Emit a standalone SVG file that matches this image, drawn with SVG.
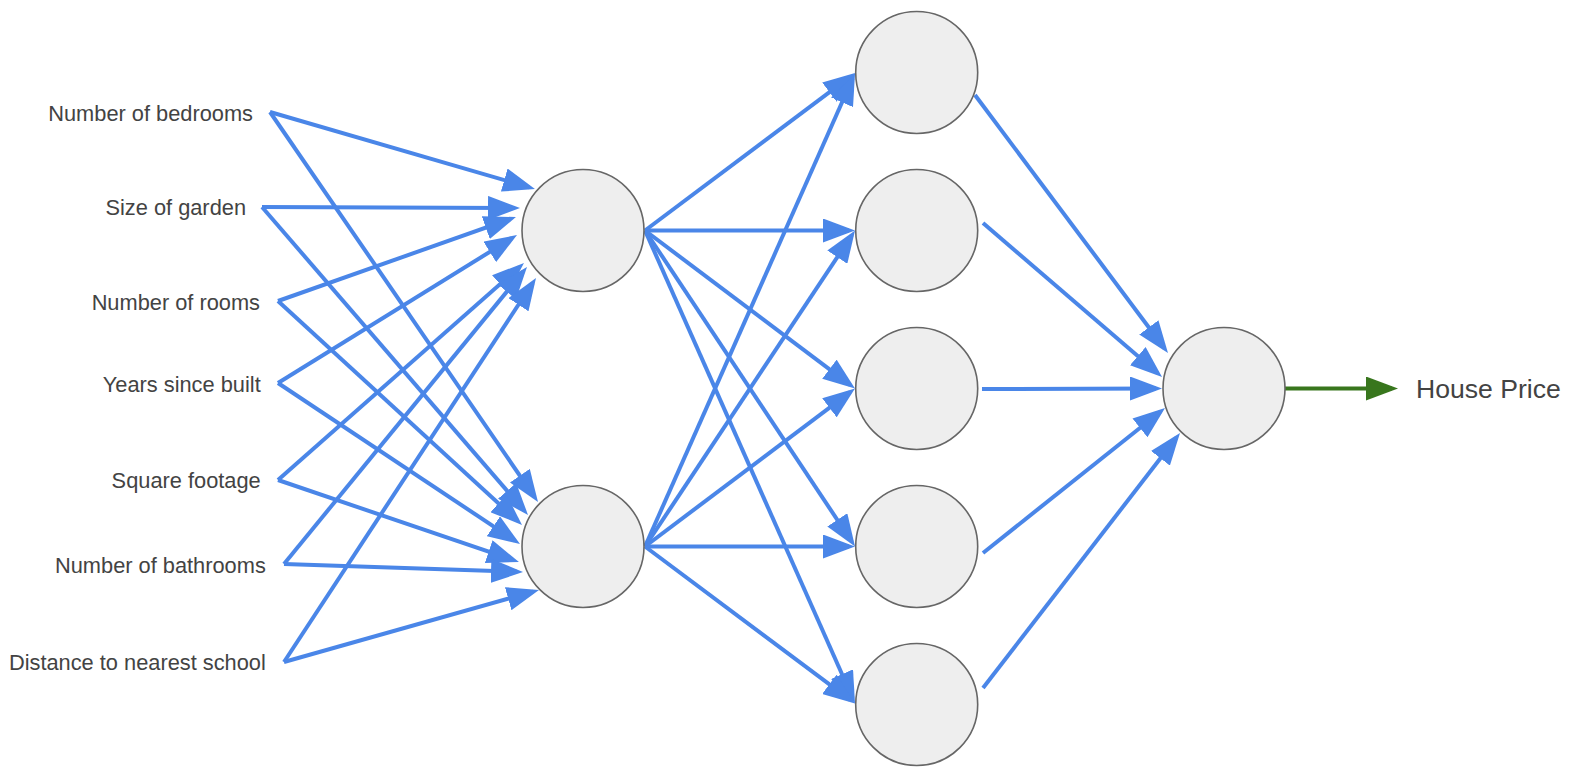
<svg xmlns="http://www.w3.org/2000/svg" width="1583" height="783" viewBox="0 0 1583 783">
<style>
.lbl{font-family:"Liberation Sans",Arial,sans-serif;font-size:21.8px;fill:#434343;text-anchor:end}
.out{font-family:"Liberation Sans",Arial,sans-serif;font-size:26.6px;fill:#434343}
.node{fill:#eeeeee;stroke:#666666;stroke-width:1.6}
.c{stroke:#4a86e8;stroke-width:4;fill:none;marker-end:url(#ab)}
.g{stroke:#38761d;stroke-width:4;fill:none;marker-end:url(#ag)}
</style>
<defs>
<marker id="ab" markerUnits="userSpaceOnUse" markerWidth="32" markerHeight="24" refX="26" refY="12" orient="auto"><path d="M0,0 L32,12 L0,24 z" fill="#4a86e8"/></marker>
<marker id="ag" markerUnits="userSpaceOnUse" markerWidth="32" markerHeight="24" refX="26" refY="12" orient="auto"><path d="M0,0 L32,12 L0,24 z" fill="#38761d"/></marker>
</defs>
<rect width="1583" height="783" fill="#ffffff"/>
<g id="connectors">
<line class="c" x1="270" y1="112" x2="529.2" y2="187.3"/>
<line class="c" x1="262" y1="207" x2="514" y2="208"/>
<line class="c" x1="278" y1="301" x2="510.3" y2="219"/>
<line class="c" x1="278" y1="383" x2="511.9" y2="238.2"/>
<line class="c" x1="278" y1="480" x2="519.5" y2="267"/>
<line class="c" x1="284" y1="564" x2="523.2" y2="271.6"/>
<line class="c" x1="284" y1="662" x2="532.7" y2="283"/>
<line class="c" x1="270" y1="112" x2="534.6" y2="497.1"/>
<line class="c" x1="262" y1="207" x2="524.1" y2="510.5"/>
<line class="c" x1="278" y1="301" x2="517.6" y2="520.9"/>
<line class="c" x1="278" y1="383" x2="515" y2="540.7"/>
<line class="c" x1="278" y1="480" x2="513.3" y2="560.1"/>
<line class="c" x1="284" y1="564" x2="517" y2="571.8"/>
<line class="c" x1="284" y1="662" x2="533.2" y2="591.6"/>
<line class="c" x1="645" y1="230.5" x2="850.2" y2="76.6"/>
<line class="c" x1="645" y1="230.5" x2="849" y2="230.5"/>
<line class="c" x1="645" y1="230.5" x2="850.2" y2="384.9"/>
<line class="c" x1="645" y1="230.5" x2="851.7" y2="541.5"/>
<line class="c" x1="645" y1="230.5" x2="852.6" y2="698"/>
<line class="c" x1="645" y1="546.5" x2="852.6" y2="78.5"/>
<line class="c" x1="645" y1="546.5" x2="851.7" y2="235.5"/>
<line class="c" x1="645" y1="546.5" x2="850.2" y2="392.1"/>
<line class="c" x1="645" y1="546.5" x2="849" y2="546.5"/>
<line class="c" x1="645" y1="546.5" x2="850.2" y2="699.9"/>
<line class="c" x1="975" y1="95" x2="1164.4" y2="348.2"/>
<line class="c" x1="983" y1="223" x2="1157.5" y2="373.1"/>
<line class="c" x1="982" y1="389" x2="1156" y2="388.5"/>
<line class="c" x1="983" y1="553" x2="1160.3" y2="411.7"/>
<line class="c" x1="983" y1="688" x2="1176.3" y2="437.7"/>
<line class="g" x1="1285" y1="388.5" x2="1392" y2="388.5"/>
</g>
<g id="inputs">
<text class="lbl" x="253" y="120.5">Number of bedrooms</text>
<text class="lbl" x="246" y="215">Size of garden</text>
<text class="lbl" x="260" y="310">Number of rooms</text>
<text class="lbl" x="260.7" y="391.7">Years since built</text>
<text class="lbl" x="260.7" y="488.3">Square footage</text>
<text class="lbl" x="265.8" y="572.7">Number of bathrooms</text>
<text class="lbl" x="265.8" y="670">Distance to nearest school</text>
</g>
<g id="h1-1"><circle class="node" cx="583" cy="230.5" r="61"/></g>
<g id="h1-2"><circle class="node" cx="583" cy="546.5" r="61"/></g>
<g id="h2-1"><circle class="node" cx="916.7" cy="72.5" r="61"/></g>
<g id="h2-2"><circle class="node" cx="916.7" cy="230.5" r="61"/></g>
<g id="h2-3"><circle class="node" cx="916.7" cy="388.5" r="61"/></g>
<g id="h2-4"><circle class="node" cx="916.7" cy="546.5" r="61"/></g>
<g id="h2-5"><circle class="node" cx="916.7" cy="704.5" r="61"/></g>
<g id="output"><circle class="node" cx="1224" cy="388.5" r="61"/></g>
<g id="house-price"><text class="out" x="1416" y="398">House Price</text></g>
</svg>
